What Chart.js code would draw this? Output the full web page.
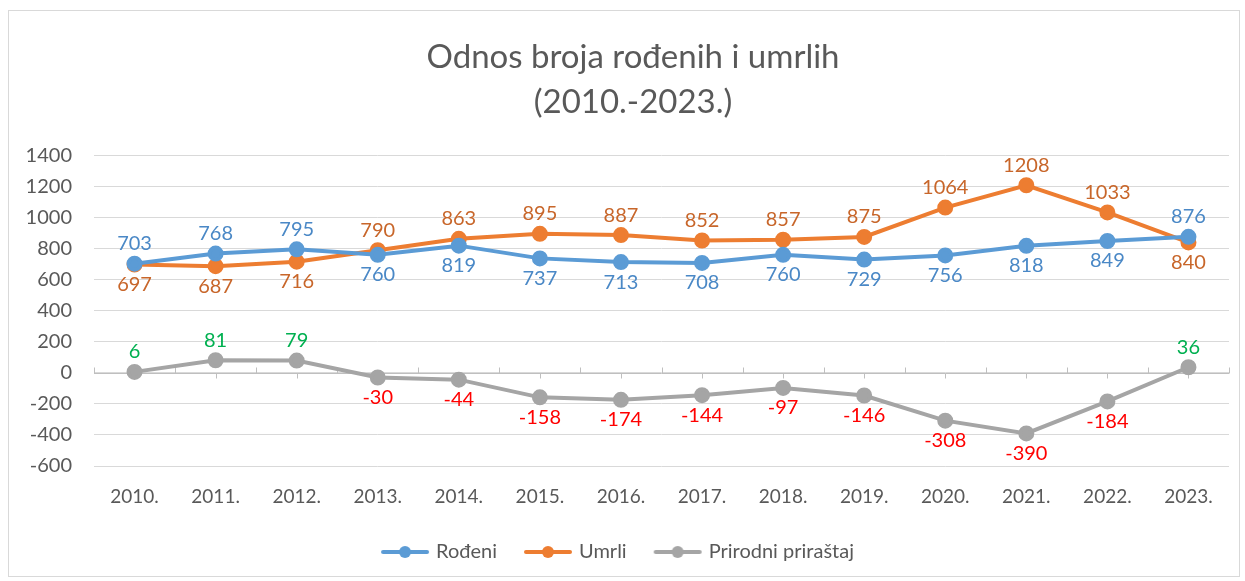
<!DOCTYPE html>
<html>
<head>
<meta charset="utf-8">
<script src="https://cdn.jsdelivr.net/npm/chart.js@4.4.1/dist/chart.umd.min.js"></script>
<style>
  html, body { margin:0; padding:0; background:#fff; }
  #wrap { position:absolute; left:8px; top:10px; width:1232px; height:567px; border:1px solid #d9d9d9; box-sizing:border-box; }
  canvas { display:block; }
</style>
</head>
<body>
<div id="wrap"><canvas id="chart" width="1230" height="565"></canvas></div>
<script>
// ===== DATA =====
const years = ['2010.','2011.','2012.','2013.','2014.','2015.','2016.','2017.','2018.','2019.','2020.','2021.','2022.','2023.'];
const rodeni = [703, 768, 795, 760, 819, 737, 713, 708, 760, 729, 756, 818, 849, 876];
const umrli = [697, 687, 716, 790, 863, 895, 887, 852, 857, 875, 1064, 1208, 1033, 840];
const prirast = [6, 81, 79, -30, -44, -158, -174, -144, -97, -146, -308, -390, -184, 36];
const yTicks = [-600, -400, -200, 0, 200, 400, 600, 800, 1000, 1200, 1400];

const FONT = 'Lato, "Open Sans", sans-serif';
const TXT = '#595959';
const BLUE = '#5B9BD5', ORANGE = '#ED7D31', GRAY = '#A5A5A5';

// legend marker: line with a dot in the middle
function marker(color) {
  const c = document.createElement('canvas');
  c.width = 50; c.height = 14;
  const g = c.getContext('2d');
  g.strokeStyle = color; g.lineWidth = 4; g.lineCap = 'round';
  g.beginPath(); g.moveTo(3, 7); g.lineTo(47, 7); g.stroke();
  g.fillStyle = color;
  g.beginPath(); g.arc(25, 7, 6, 0, Math.PI*2); g.fill();
  return c;
}

// label above or below the point
function labelSide(dsIndex, i) {
  if (dsIndex === 0) return rodeni[i] >= umrli[i] ? -1 : 1;
  if (dsIndex === 1) return umrli[i] > rodeni[i] ? -1 : 1;
  return prirast[i] >= 0 ? -1 : 1;
}
function labelColor(dsIndex, i) {
  if (dsIndex === 0) return '#4A88C6';
  if (dsIndex === 1) return '#C8662A';
  return prirast[i] >= 0 ? '#00B050' : '#FF0000';
}

const dataLabels = {
  id: 'dataLabels',
  afterDatasetsDraw(chart) {
    const ctx = chart.ctx;
    ctx.save();
    ctx.font = '20px ' + FONT;
    ctx.textAlign = 'center';
    ctx.textBaseline = 'middle';
    chart.data.datasets.forEach((ds, di) => {
      chart.getDatasetMeta(di).data.forEach((pt, i) => {
        const side = labelSide(di, i);
        ctx.fillStyle = labelColor(di, i);
        ctx.fillText(String(ds.data[i]), pt.x, pt.y + side * 20);
      });
    });
    ctx.restore();
  }
};

// category axis drawn at zero, with tick marks like the original
const zeroAxis = {
  id: 'zeroAxis',
  afterLayout(chart) {
    // title in the original sits a bit right of the canvas centre
    if (chart.titleBlock) chart.titleBlock.left += 28;
  },
  beforeDatasetsDraw(chart) {
    const { ctx, chartArea, scales: { x, y } } = chart;
    const y0 = Math.round(y.getPixelForValue(0)) + 0.5;
    ctx.save();
    ctx.strokeStyle = '#bfbfbf';
    ctx.lineWidth = 1;
    ctx.beginPath();
    ctx.moveTo(chartArea.left, y0); ctx.lineTo(chartArea.right, y0);
    for (let i = 0; i <= years.length; i++) {
      const bx = Math.round(x.getPixelForValue(i - 0.5)) + 0.5;
      ctx.moveTo(bx, y0); ctx.lineTo(bx, y0 - 6);
    }
    for (let i = 0; i < years.length; i++) {
      const cx = Math.round(x.getPixelForValue(i)) + 0.5;
      ctx.moveTo(cx, y0); ctx.lineTo(cx, y0 + 5);
    }
    ctx.stroke();
    ctx.restore();
  }
};

const series = [
  { label: 'Rođeni', data: rodeni, color: BLUE },
  { label: 'Umrli', data: umrli, color: ORANGE },
  { label: 'Prirodni priraštaj', data: prirast, color: GRAY },
];

new Chart(document.getElementById('chart'), {
  type: 'line',
  data: {
    labels: years,
    datasets: series.map(s => ({
      label: s.label,
      data: s.data,
      borderColor: s.color,
      backgroundColor: s.color,
      pointBackgroundColor: s.color,
      pointBorderColor: s.color,
      borderWidth: 4,
      pointRadius: 6,
      pointStyle: 'circle',
      tension: 0,
    }))
  },
  options: {
    responsive: false,
    animation: false,
    layout: { padding: { left: 0, right: 10, top: 0, bottom: 4 } },
    plugins: {
      title: {
        display: true,
        text: ['Odnos broja rođenih i umrlih', '(2010.-2023.)'],
        color: TXT,
        font: { family: FONT, size: 33, weight: 'normal', lineHeight: 1.37 },
        padding: { top: 24, bottom: 30 },
      },
      legend: {
        position: 'bottom',
        labels: {
          usePointStyle: true,
          pointStyleWidth: 42,
          color: TXT,
          font: { family: FONT, size: 20 },
          padding: 30,
          generateLabels(chart) {
            return chart.data.datasets.map((ds, i) => ({
              text: ds.label,
              fontColor: TXT,
              pointStyle: marker(ds.borderColor),
              datasetIndex: i,
              hidden: false,
              lineWidth: 0,
              strokeStyle: 'transparent',
              fillStyle: ds.borderColor,
            }));
          }
        }
      },
      tooltip: { enabled: false }
    },
    scales: {
      x: {
        offset: true,
        grid: { display: false, drawTicks: false },
        border: { display: false },
        ticks: { color: TXT, font: { family: FONT, size: 19 }, padding: 19, maxRotation: 0 },
        afterFit(s) { s.height = 46; }
      },
      y: {
        min: -600, max: 1400,
        afterBuildTicks(s) { s.ticks = yTicks.map(v => ({ value: v })); },
        grid: { color: '#d9d9d9', drawTicks: false, lineWidth: 1 },
        border: { display: false },
        ticks: { color: TXT, font: { family: FONT, size: 20 }, padding: 22, callback: v => String(v) },
        afterFit(s) { s.width = 85; }
      }
    }
  },
  plugins: [zeroAxis, dataLabels]
});
</script>
</body>
</html>
